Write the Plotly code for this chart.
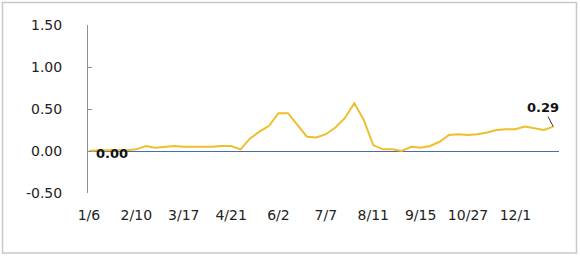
import plotly.graph_objects as go

dates = ["1/6","1/13","1/20","1/27","2/3","2/10","2/17","2/24","3/3","3/10",
         "3/17","3/24","3/31","4/7","4/14","4/21","4/28","5/12","5/19","5/26",
         "6/2","6/9","6/16","6/23","6/30","7/7","7/14","7/21","7/28","8/4",
         "8/11","8/18","8/25","9/1","9/8","9/15","9/22","9/29","10/13","10/20",
         "10/27","11/3","11/10","11/17","11/24","12/1","12/8","12/15","12/22","12/29"]
values = [0.00,0.01,0.01,0.01,0.01,0.02,0.06,0.04,0.05,0.06,
          0.05,0.05,0.05,0.05,0.06,0.06,0.02,0.15,0.23,0.30,
          0.45,0.45,0.31,0.17,0.16,0.20,0.28,0.39,0.57,0.37,
          0.07,0.02,0.02,0.00,0.05,0.04,0.06,0.11,0.19,0.20,
          0.19,0.20,0.22,0.25,0.26,0.26,0.29,0.27,0.25,0.29]
y_ticks = [-0.5, 0.0, 0.5, 1.0, 1.5]
y_tick_labels = ["-0.50", "0.00", "0.50", "1.00", "1.50"]
label_step = 5

idx = list(range(len(dates)))
font = "DejaVu Sans"

fig = go.Figure()
fig.add_trace(go.Scatter(x=idx, y=values, mode="lines",
                         line=dict(color="#EEBF2C", width=2), hoverinfo="skip"))

fig.add_annotation(x=idx[0], y=values[0], text="<b>%.2f</b>" % values[0],
                   showarrow=False, xanchor="left", yanchor="middle",
                   xshift=5, yshift=-2,
                   font=dict(family=font, size=13, color="#111111"))
fig.add_annotation(x=idx[-1], y=values[-1], text="<b>%.2f</b>" % values[-1],
                   showarrow=True, arrowhead=0, arrowwidth=1, arrowcolor="#333333",
                   ax=-10, ay=-19, standoff=0,
                   font=dict(family=font, size=13, color="#111111"))

W, H = 580, 256
L, R, T, B = 88, 559, 25, 193
pw, ph = R - L, B - T
fig.add_shape(type="rect", xref="paper", yref="paper",
              x0=(2.5 - L) / pw, x1=(576.5 - L) / pw,
              y0=(B - 253) / ph, y1=(B - 2.5) / ph,
              line=dict(color="#C8C8C8", width=1.5), layer="below")

fig.update_layout(
    width=W, height=H,
    margin=dict(l=L, r=W - R, t=T, b=H - B),
    paper_bgcolor="white", plot_bgcolor="white",
    showlegend=False,
    font=dict(family=font, size=14, color="#222222"),
    xaxis=dict(range=[-0.1, 49.6], tickvals=idx[::label_step],
               ticktext=dates[::label_step], showgrid=False, zeroline=False,
               showline=False, ticks="", ticklabelstandoff=12,
               tickfont=dict(family=font, size=14, color="#222222")),
    yaxis=dict(range=[-0.5, 1.5], tickvals=y_ticks, ticktext=y_tick_labels,
               showgrid=False, zeroline=True, zerolinecolor="#4A6EA8",
               zerolinewidth=1, showline=True, linecolor="#8A9099", linewidth=1,
               ticks="inside", ticklen=4, tickcolor="#8A9099",
               ticklabelstandoff=22,
               tickfont=dict(family=font, size=14, color="#222222")),
)

fig.write_html("out.html")
